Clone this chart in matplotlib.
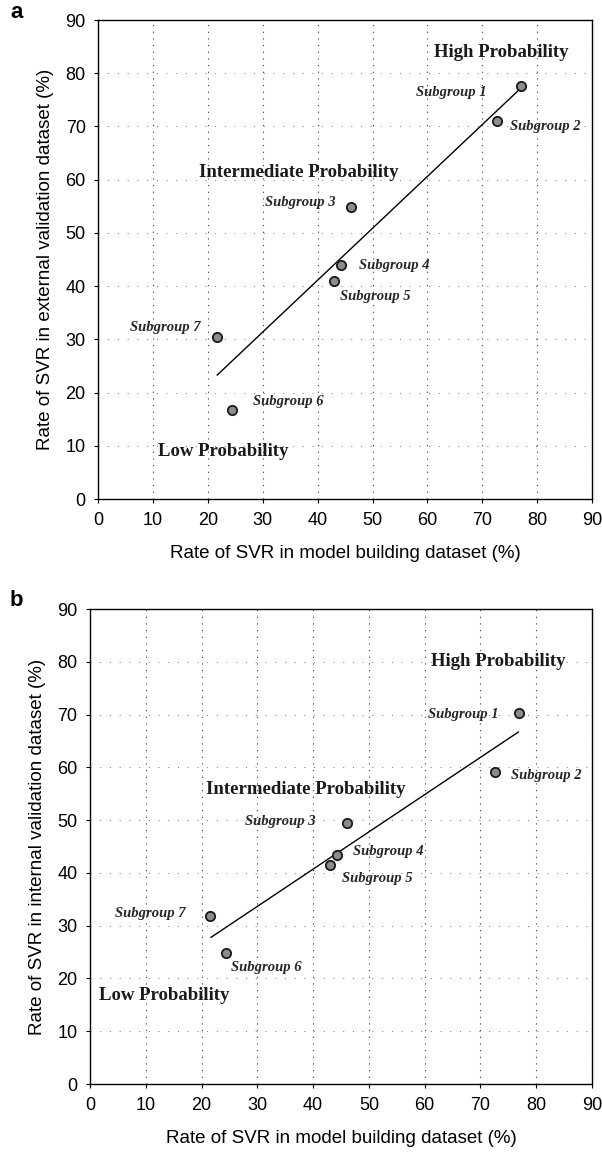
import matplotlib
matplotlib.use("Agg")
import matplotlib.pyplot as plt
import numpy as np

# ---- data ----
subgroups = ["Subgroup 1", "Subgroup 2", "Subgroup 3", "Subgroup 4",
             "Subgroup 5", "Subgroup 6", "Subgroup 7"]
model_rate = [77.0, 72.6, 46.1, 44.3, 43.0, 24.3, 21.6]
external_rate = [77.6, 71.1, 54.8, 43.9, 40.9, 16.8, 30.4]
internal_rate = [70.3, 59.1, 49.5, 43.4, 41.5, 24.9, 31.9]
fit_x = [21.7, 76.8]
fit_external = [23.3, 77.0]
fit_internal = [27.8, 66.7]
ticks = [0, 10, 20, 30, 40, 50, 60, 70, 80, 90]
prob_labels = ["High Probability", "Intermediate Probability", "Low Probability"]

sans = ["Liberation Sans", "DejaVu Sans"]
serif = ["Liberation Serif", "DejaVu Serif"]

fig = plt.figure(figsize=(6.02, 11.52), dpi=100)
ax_a = fig.add_axes([0.163, 0.5668, 0.8206, 0.4158])
ax_b = fig.add_axes([0.1495, 0.059, 0.8339, 0.4123])

# label positions (data coords): (x, y, ha)
sub_pos_a = [(70.7, 76.4, "right"), (75.1, 70.0, "left"), (43.2, 55.8, "right"),
             (47.6, 43.8, "left"), (44.1, 38.1, "left"), (28.2, 18.3, "left"),
             (18.6, 32.3, "right")]
sub_pos_b = [(73.2, 70.1, "right"), (75.5, 58.5, "left"), (40.5, 49.7, "right"),
             (47.1, 44.0, "left"), (45.2, 38.9, "left"), (25.2, 22.0, "left"),
             (17.2, 32.3, "right")]
prob_pos_a = [(73.5, 83.9, "center"), (36.6, 61.4, "center"), (22.8, 9.0, "center")]
prob_pos_b = [(73.2, 80.0, "center"), (38.7, 55.9, "center"), (1.6, 16.7, "left")]

def draw(ax, yvals, fity, sub_pos, prob_pos, ylabel):
    ax.set_xlim(0, 90)
    ax.set_ylim(0, 90)
    ax.set_xticks(ticks)
    ax.set_yticks(ticks)
    for t in ticks[1:]:
        ax.axvline(t, color="0.2", lw=0.8, ls=(0, (1, 5)), zorder=0)
        ax.axhline(t, color="0.45", lw=0.7, ls=(0, (1, 9)), zorder=0)
    ax.plot(fit_x, fity, color="black", lw=1.0, zorder=2)
    ax.scatter(model_rate, yvals, s=45, facecolor="0.55", edgecolor="0.1",
               linewidth=1.3, zorder=3)
    for name, (x, y, ha) in zip(subgroups, sub_pos):
        ax.text(x, y, name, ha=ha, va="center", family=serif, style="italic",
                fontweight="bold", fontsize=10.5, color="0.15")
    for name, (x, y, ha) in zip(prob_labels, prob_pos):
        ax.text(x, y, name, ha=ha, va="center", family=serif, fontweight="bold",
                fontsize=13.5, color="0.1")
    for s in ax.spines.values():
        s.set_linewidth(1.0)
    ax.tick_params(labelsize=13, length=3, width=0.8, pad=6)
    for lab in ax.get_xticklabels() + ax.get_yticklabels():
        lab.set_family(sans)
    ax.set_xlabel("Rate of SVR in model building dataset (%)", family=sans,
                  fontsize=13.5, labelpad=12)
    ax.set_ylabel(ylabel, family=sans, fontsize=13.5, labelpad=8)
    return ax

draw(ax_a, external_rate, fit_external, sub_pos_a, prob_pos_a,
     "Rate of SVR in external validation dataset (%)")
draw(ax_b, internal_rate, fit_internal, sub_pos_b, prob_pos_b,
     "Rate of SVR in internal validation dataset (%)")

fig.text(10 / 602, 1 - 12 / 1152, "a", family=sans, fontsize=16, fontweight="bold",
         ha="left", va="center")
fig.text(10 / 602, 1 - 600 / 1152, "b", family=sans, fontsize=16, fontweight="bold",
         ha="left", va="center")

fig.savefig("out.png", dpi=100)
